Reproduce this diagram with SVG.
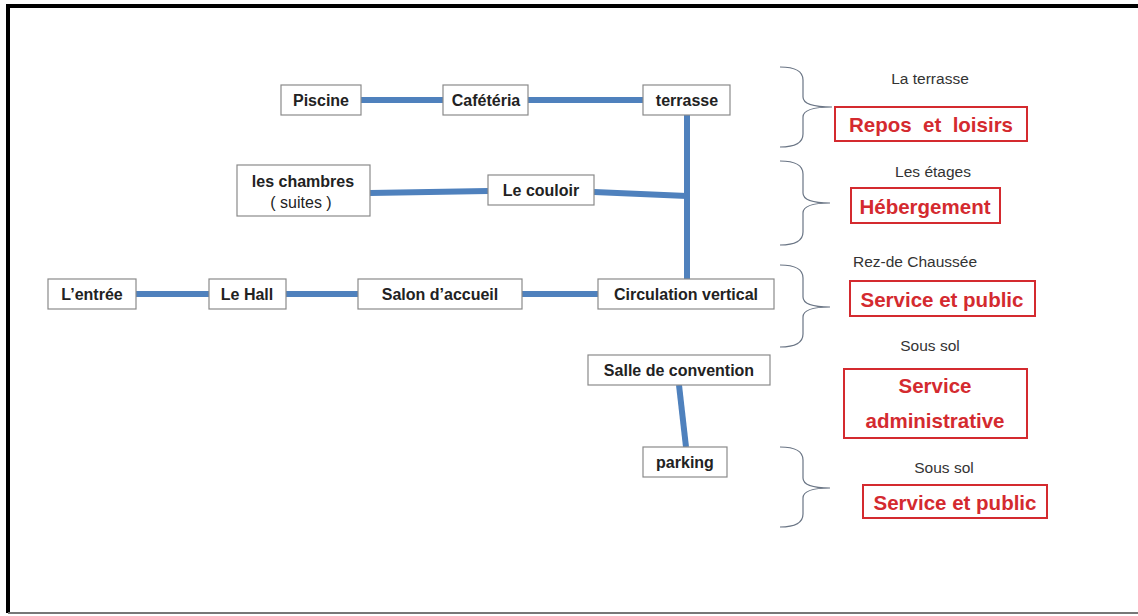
<svg xmlns="http://www.w3.org/2000/svg" width="1138" height="616" viewBox="0 0 1138 616">
<style>
.node rect{fill:#fff;stroke:#8a8a8a;stroke-width:1.2}
.node text{font-family:"Liberation Sans",Arial,sans-serif;font-weight:bold;font-size:16px;fill:#222;text-anchor:middle}
.lbl{font-family:"Liberation Sans",Arial,sans-serif;font-size:15.5px;fill:#333;text-anchor:middle}
.zone rect{fill:#fff;stroke:#d42a2f;stroke-width:2}
.zone text{font-family:"Liberation Sans",Arial,sans-serif;font-weight:bold;font-size:20.5px;fill:#d42a2f;text-anchor:middle;white-space:pre}
.conn{stroke:#4f81bd;stroke-width:6;fill:none}
.brace{fill:none;stroke:#6a7585;stroke-width:1.2}
</style>
<rect x="0" y="0" width="1138" height="616" fill="#fff"/>
<g id="frame">
<line x1="6" y1="6" x2="1138" y2="6" stroke="#000" stroke-width="4"/>
<line x1="8" y1="4" x2="8" y2="613" stroke="#000" stroke-width="4"/>
<line x1="8" y1="613" x2="1138" y2="613" stroke="#777" stroke-width="2"/>
</g>
<g id="connectors">
<line class="conn" x1="361" y1="100" x2="443" y2="100"/>
<line class="conn" x1="528" y1="100" x2="643" y2="100"/>
<line class="conn" x1="687" y1="115" x2="687" y2="279"/>
<line class="conn" x1="370" y1="193" x2="488" y2="191"/>
<line class="conn" x1="594" y1="192" x2="687" y2="196"/>
<line class="conn" x1="136" y1="294" x2="209" y2="294"/>
<line class="conn" x1="286" y1="294" x2="358" y2="294"/>
<line class="conn" x1="522" y1="294" x2="598" y2="294"/>
<line class="conn" x1="679" y1="385" x2="686" y2="447"/>
</g>
<g id="piscine" class="node"><rect x="281" y="85" width="80" height="30"/><text x="321" y="105.5">Piscine</text></g>
<g id="cafeteria" class="node"><rect x="443" y="85" width="85" height="30"/><text x="486" y="105.5">Cafétéria</text></g>
<g id="terrasse" class="node"><rect x="643" y="85" width="87" height="30"/><text x="687" y="105.5">terrasse</text></g>
<g id="chambres" class="node"><rect x="237" y="165" width="133" height="51"/><text x="303" y="187">les chambres</text><text x="301" y="208" style="font-weight:normal">( suites )</text></g>
<g id="couloir" class="node"><rect x="488" y="175" width="106" height="30"/><text x="541" y="195.5">Le couloir</text></g>
<g id="entree" class="node"><rect x="48" y="279" width="88" height="30"/><text x="92" y="299.5">L’entrée</text></g>
<g id="hall" class="node"><rect x="209" y="279" width="77" height="30"/><text x="247" y="299.5">Le Hall</text></g>
<g id="salon" class="node"><rect x="358" y="279" width="164" height="30"/><text x="440" y="299.5">Salon d’accueil</text></g>
<g id="circulation" class="node"><rect x="598" y="279" width="176" height="30"/><text x="686" y="299.5">Circulation vertical</text></g>
<g id="convention" class="node"><rect x="588" y="355" width="182" height="30"/><text x="679" y="375.5">Salle de convention</text></g>
<g id="parking" class="node"><rect x="643" y="447" width="84" height="30"/><text x="685" y="467.5">parking</text></g>
<g id="braces">
<path class="brace" d="M780,67 Q803,67 803,80 L803,97 Q803,107 832,107 Q803,107 803,117 L803,134 Q803,147 780,147"/>
<path class="brace" d="M780,161 Q803,161 803,174 L803,193 Q803,203 830,203 Q803,203 803,213 L803,232 Q803,245 780,245"/>
<path class="brace" d="M780,265 Q803,265 803,278 L803,297 Q803,307 830,307 Q803,307 803,317 L803,334 Q803,347 780,347"/>
<path class="brace" d="M780,447 Q803,447 803,460 L803,478 Q803,488 830,488 Q803,488 803,498 L803,514 Q803,527 780,527"/>
</g>
<g id="labels">
<text class="lbl" x="930" y="84">La terrasse</text>
<text class="lbl" x="933" y="177">Les étages</text>
<text class="lbl" x="915" y="267">Rez-de Chaussée</text>
<text class="lbl" x="930" y="351">Sous sol</text>
<text class="lbl" x="944" y="473">Sous sol</text>
</g>
<g id="zone-repos" class="zone"><rect x="835" y="107" width="192" height="34"/><text x="931" y="131.5">Repos  et  loisirs</text></g>
<g id="zone-hebergement" class="zone"><rect x="851" y="188" width="149" height="35"/><text x="925" y="213.5">Hébergement</text></g>
<g id="zone-service1" class="zone"><rect x="850" y="281" width="185" height="35"/><text x="942" y="306.5">Service et public</text></g>
<g id="zone-admin" class="zone"><rect x="844" y="369" width="183" height="69"/><text x="935" y="393">Service</text><text x="935" y="428">administrative</text></g>
<g id="zone-service2" class="zone"><rect x="863" y="485" width="184" height="33"/><text x="955" y="509.5">Service et public</text></g>
</svg>
